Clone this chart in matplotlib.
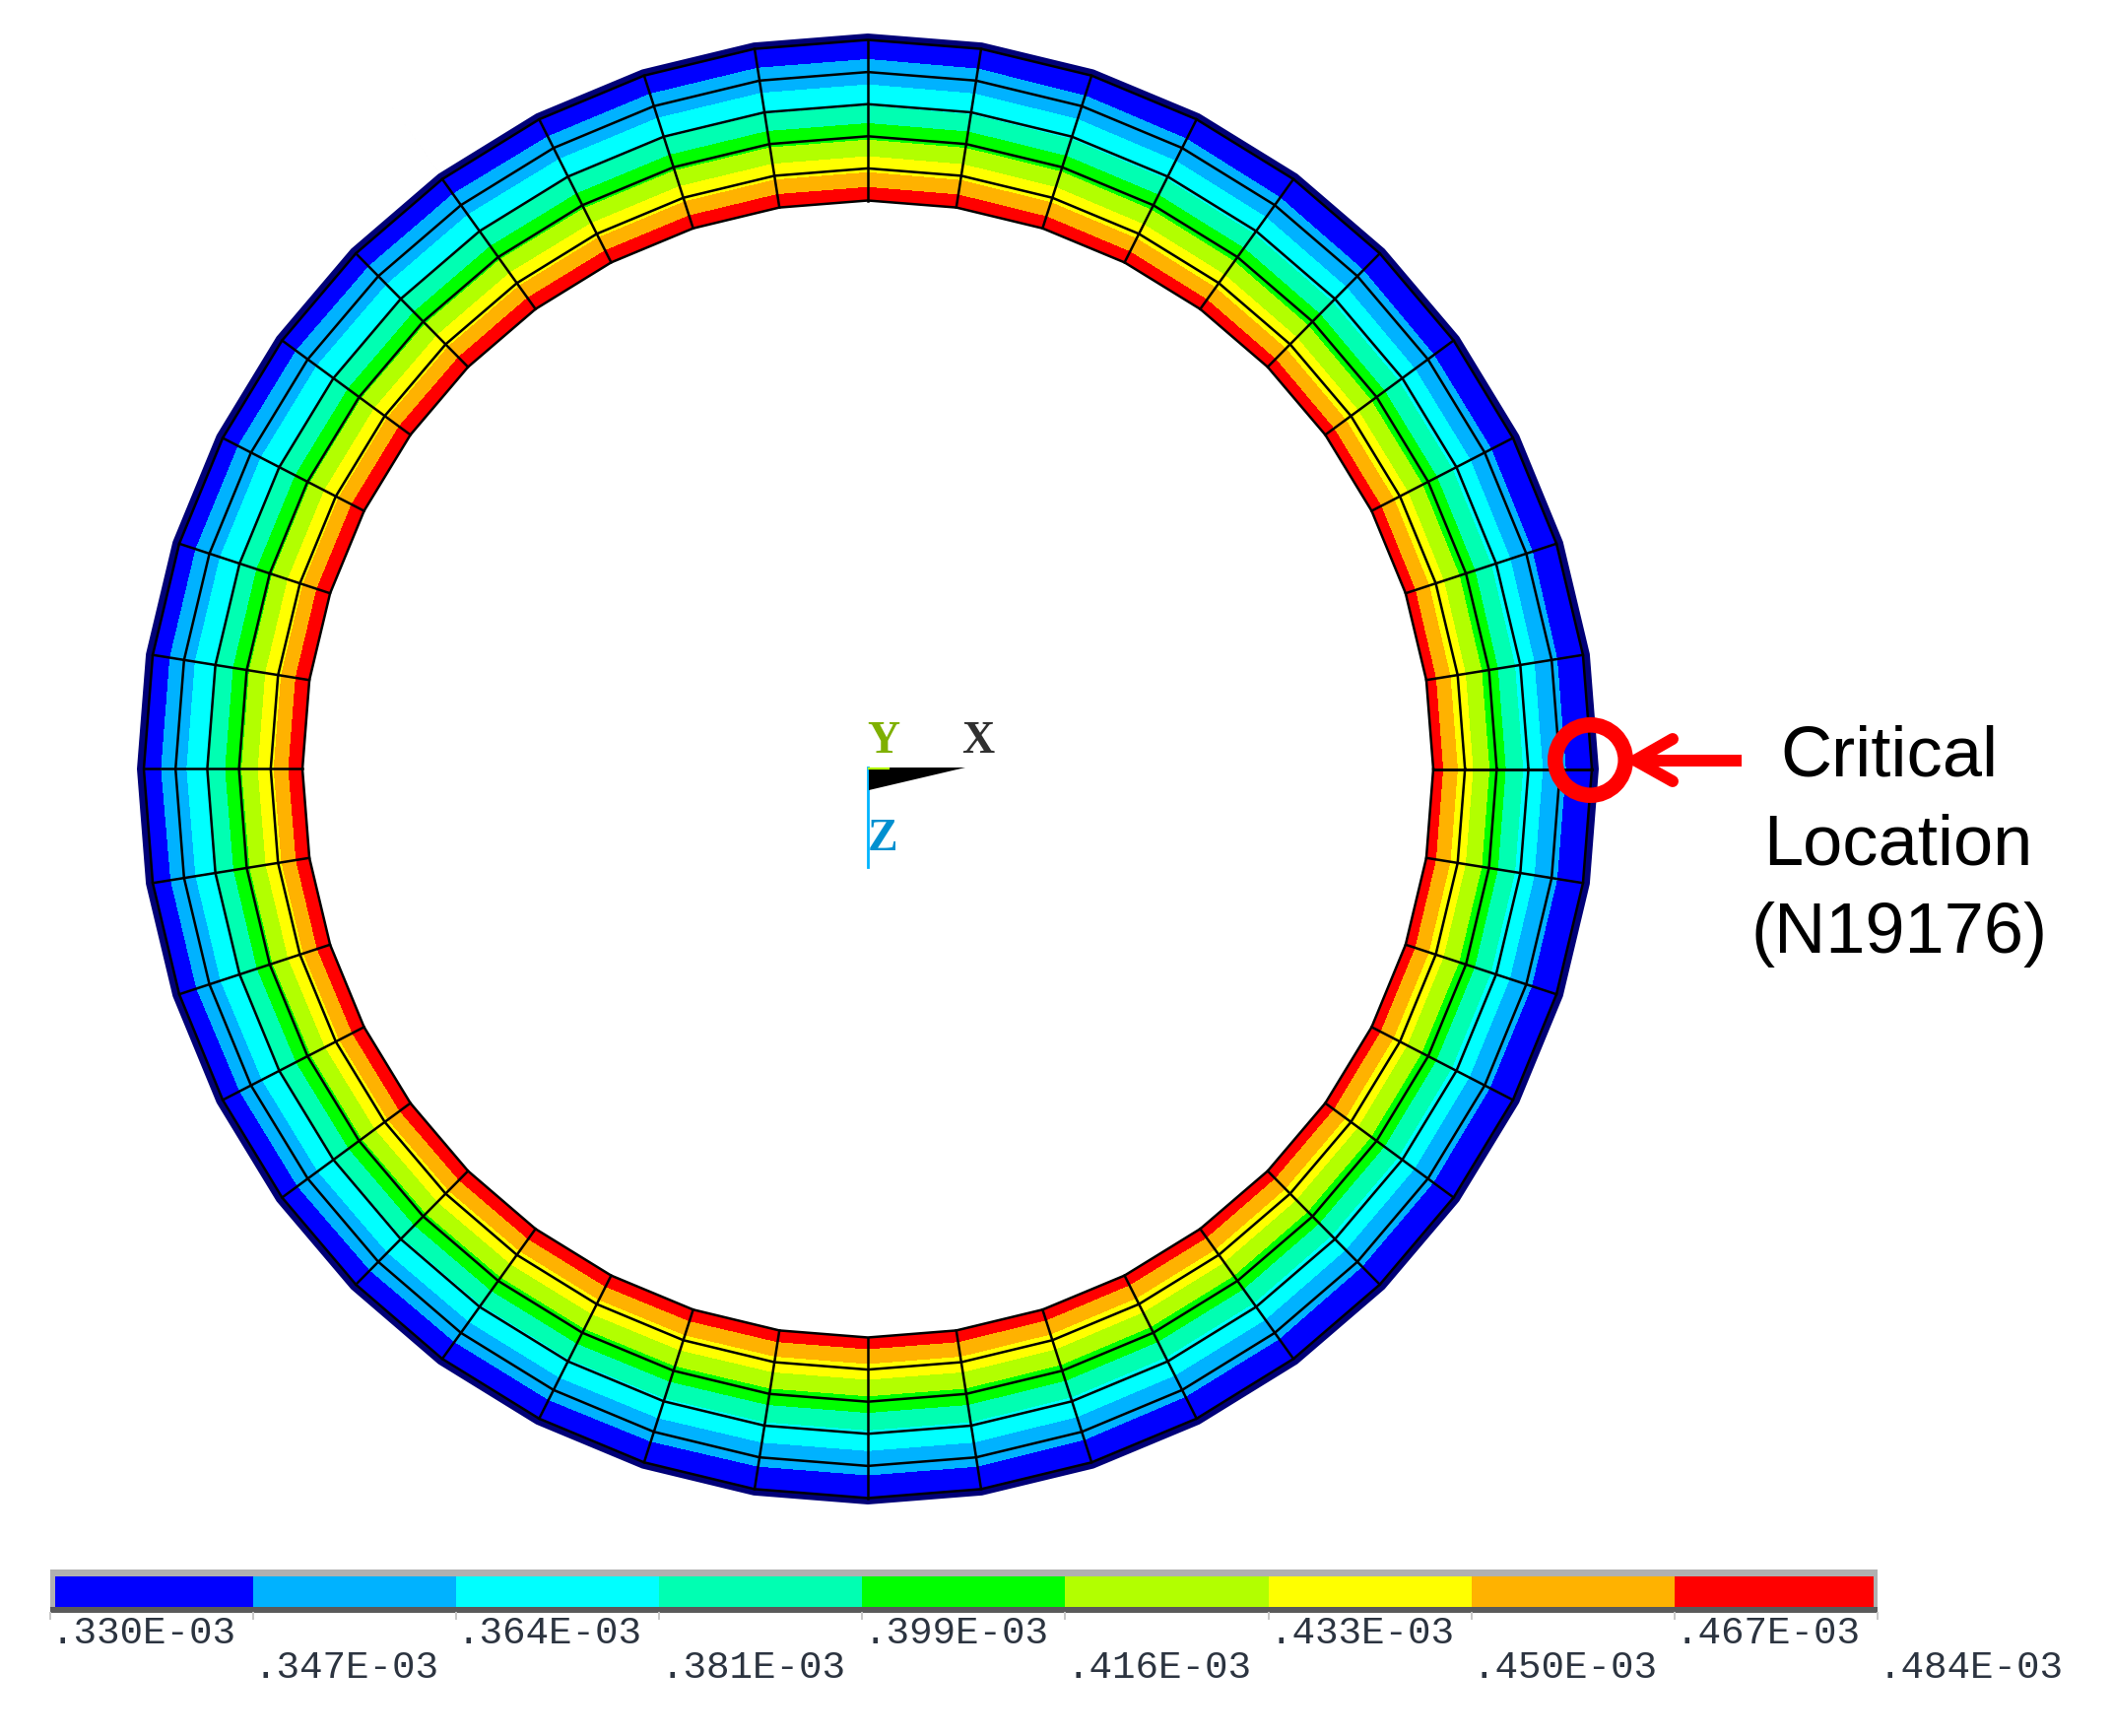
import numpy as np
import matplotlib
matplotlib.use("Agg")
import matplotlib.pyplot as plt
from matplotlib.patches import Circle, Polygon, Rectangle

# contour levels, in units of 1e-3
levels = [0.330, 0.347, 0.364, 0.381, 0.399, 0.416, 0.433, 0.450, 0.467, 0.484]
level_labels = [".330E-03", ".347E-03", ".364E-03", ".381E-03", ".399E-03",
                ".416E-03", ".433E-03", ".450E-03", ".467E-03", ".484E-03"]
band_colors = ["#0000ff", "#00b2ff", "#00ffff", "#00ffb2", "#00ff00",
               "#b2ff00", "#ffff00", "#ffb200", "#ff0000"]

# nodal value on each ring, inner to outer
ring_values = [0.482, 0.445, 0.412, 0.379, 0.354, 0.336]
# shift of the values per node, going round from 3 o'clock in 9 degree steps
node_shift = [-0.004, -0.004, -0.0035, -0.003, -0.003, -0.0025, -0.002, -0.0015, -0.001, -0.0005,
              0.0, 0.0, 0.0, 0.0, 0.0005, 0.0005, 0.001, 0.001, 0.001, 0.001,
              0.001, 0.0005, 0.0005, 0.0, 0.0, -0.0005, -0.001, -0.001, -0.0015, -0.002,
              -0.002, -0.002, -0.0025, -0.003, -0.003, -0.0035, -0.0035, -0.004, -0.004, -0.004]

plt.rcParams['font.family'] = ['Liberation Sans', 'DejaVu Sans']

# canvas in pixels, same as the picture
fig = plt.figure(figsize=(21.44, 17.62), dpi=100)
ax = fig.add_axes([0, 0, 1, 1])
ax.set_xlim(0, 2144)
ax.set_ylim(1762, 0)
ax.axis('off')

cx, cy = 881, 780.5
n_nodes = len(node_shift)
theta = np.deg2rad(np.arange(n_nodes + 1) * 360.0 / n_nodes)
rx = 574 + 32.2 * np.arange(len(ring_values))
ry = 577 + 32.6 * np.arange(len(ring_values))

X = cx + np.outer(rx, np.cos(theta))
Y = cy - np.outer(ry, np.sin(theta))
Z = np.add.outer(np.array(ring_values), np.array(node_shift + node_shift[:1]))

# navy rim sticking out past the last ring, hole is punched back to white
rim = np.column_stack([cx + 742 * np.cos(theta), cy - 746.5 * np.sin(theta)])
hole = np.column_stack([X[0], Y[0]])
ax.add_patch(Polygon(rim, closed=True, fc="#000078", ec="none", zorder=1))
ax.add_patch(Polygon(hole, closed=True, fc="white", ec="none", zorder=1.5))

ax.contourf(X, Y, Z, levels=levels, colors=band_colors, antialiased=False, zorder=2)

# element edges
mesh_lw = 1.8
ax.plot(X.T, Y.T, color="black", lw=mesh_lw, zorder=3)
ax.plot(X, Y, color="black", lw=mesh_lw, zorder=3)

# global triad
ax.plot([881, 881], [779, 880], color="#00b4ff", lw=2.0, zorder=3)
ax.add_patch(Polygon([(882, 779), (980, 779), (882, 802)], closed=True, fc="black", ec="none", zorder=3))
ax.plot([882, 902], [780, 780], color="#b2ff00", lw=1.6, zorder=4)
triad_font = dict(family=['Liberation Serif'], fontsize=33, fontweight='bold', ha='center', va='center')
ax.text(897, 753, "Y", color="#7fb000", **triad_font)
ax.text(993, 753, "X", color="#303030", **triad_font)
ax.text(896, 852, "Z", color="#0090d0", **triad_font)

# critical location callout
ax.add_patch(Circle((1614.5, 771.5), 35.7, fc="none", ec="#ff0000", lw=11.2, zorder=5))
ax.plot([1662, 1768], [771.7, 771.7], color="#ff0000", lw=8.6, solid_capstyle='butt', zorder=5)
ax.plot([1698, 1660, 1698], [750, 771.7, 793], color="#ff0000", lw=8.6,
        solid_capstyle='round', solid_joinstyle='miter', zorder=5)
ax.text(1918, 769, "Critical", fontsize=52, ha='center', va='center', color="black")
ax.text(1927, 859, "Location", fontsize=52, ha='center', va='center', color="black")
ax.text(1928, 948, "(N19176)", fontsize=52, ha='center', va='center', color="black")

# legend bar
tick_x = np.linspace(50.6, 1906, len(levels))
ax.add_patch(Rectangle((50.6, 1593), 1855.4, 44, fc="#b0b0b0", ec="none"))
ax.add_patch(Rectangle((50.6, 1631), 1855.4, 6, fc="#5a5a5a", ec="none"))
for i, col in enumerate(band_colors):
    x0 = max(tick_x[i], 56)
    x1 = min(tick_x[i + 1], 1902)
    ax.add_patch(Rectangle((x0, 1600), x1 - x0, 31, fc=col, ec="none"))
for i, label in enumerate(level_labels):
    ax.plot([tick_x[i], tick_x[i]], [1637, 1643], color="#c8c8c8", lw=1.4)
    y = 1658 if i % 2 == 0 else 1693
    ax.text(tick_x[i] + 1, y, label, family=['Liberation Mono'], fontsize=28.3,
            ha='left', va='center', color="#2c3440")

fig.savefig("out.png", dpi=100, facecolor="white")
